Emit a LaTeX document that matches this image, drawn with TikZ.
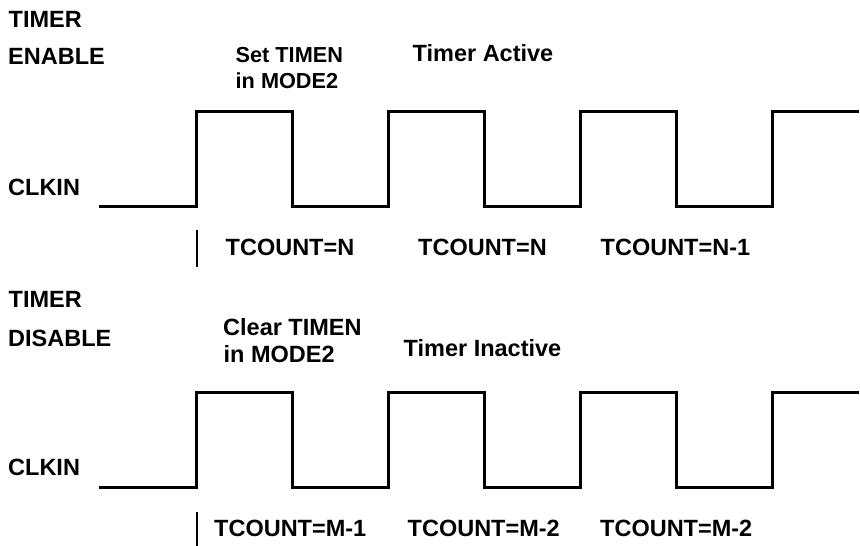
\documentclass[tikz,border=0pt]{standalone}
\usepackage{fontspec}
\setmainfont{Liberation Sans}
\begin{document}
\begin{tikzpicture}[x=1pt,y=-1pt,
  lbl/.style={anchor=base west,inner sep=0pt,font=\fontsize{23.5}{28}\selectfont\bfseries},
  smalllbl/.style={lbl,font=\fontsize{21.7}{26}\selectfont\bfseries},
  wave/.style={line width=3pt,line cap=butt,line join=miter},
  tickline/.style={line width=2.2pt}]
\useasboundingbox (0,0) rectangle (860,546);
% ---------- top (enable) ----------
\node[lbl] (t1) at (8.5,27.3) {TIMER};
\node[lbl] (en) at (8,64) {ENABLE};
\node[smalllbl] (set1) at (235.5,62.5) {Set TIMEN};
\node[smalllbl] (set2) at (235.5,88.5) {in MODE2};
\node[lbl] (act) at (412.5,61.5) {Timer Active};
\node[lbl] (ck1) at (8,195) {CLKIN};
\node[lbl] (c1) at (225.5,255) {TCOUNT=N};
\node[lbl] (c2) at (418,255) {TCOUNT=N};
\node[lbl] (c3) at (600.5,255) {TCOUNT=N-1};
\coordinate (ws1) at (99,206.7);
\coordinate (we1) at (859,111.7);
\draw[wave] (ws1) -- (196.7,206.7) -- (196.7,111.7) -- (292.7,111.7) -- (292.7,206.7)
  -- (388.7,206.7) -- (388.7,111.7) -- (484.7,111.7) -- (484.7,206.7)
  -- (580.7,206.7) -- (580.7,111.7) -- (676.7,111.7) -- (676.7,206.7)
  -- (772.7,206.7) -- (772.7,111.7) -- (we1);
\coordinate (m1a) at (197,230);
\coordinate (m1b) at (197,267);
\draw[tickline] (m1a) -- (m1b);
% ---------- bottom (disable) ----------
\node[lbl] (t2) at (8.5,307.7) {TIMER};
\node[lbl] (dis) at (8,346) {DISABLE};
\node[lbl] (clr1) at (223,335) {Clear TIMEN};
\node[lbl] (clr2) at (223.5,362.5) {in MODE2};
\node[lbl] (inact) at (403.5,356) {Timer Inactive};
\node[lbl] (ck2) at (8,475.7) {CLKIN};
\node[lbl] (d1) at (214,536) {TCOUNT=M-1};
\node[lbl] (d2) at (407.5,536) {TCOUNT=M-2};
\node[lbl] (d3) at (600,536) {TCOUNT=M-2};
\coordinate (ws2) at (99,487.7);
\coordinate (we2) at (859,392.3);
\draw[wave] (ws2) -- (196,487.7) -- (196,392.3) -- (292,392.3) -- (292,487.7)
  -- (388,487.7) -- (388,392.3) -- (484,392.3) -- (484,487.7)
  -- (580,487.7) -- (580,392.3) -- (676,392.3) -- (676,487.7)
  -- (772,487.7) -- (772,392.3) -- (we2);
\coordinate (m2a) at (196.7,511.7);
\coordinate (m2b) at (196.7,546);
\draw[tickline] (m2a) -- (m2b);
\end{tikzpicture}
\end{document}
